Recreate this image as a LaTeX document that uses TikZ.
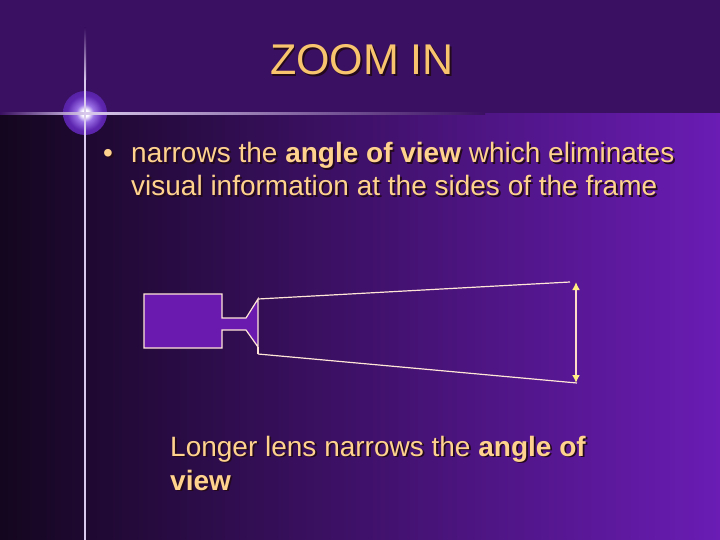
\documentclass[tikz,border=0pt]{standalone}
\usepackage{fontspec}
\setmainfont{Liberation Sans}
\usetikzlibrary{arrows.meta}
\definecolor{topbg}{HTML}{3A1062}
\definecolor{leftdark}{HTML}{14061F}
\definecolor{rightbright}{HTML}{6A1CB4}
\definecolor{txtc}{HTML}{FFD38E}
\definecolor{ttlc}{HTML}{F8C46E}
\definecolor{shadc}{HTML}{24081C}
\definecolor{linec}{HTML}{FFE6D6}
\definecolor{camfill}{HTML}{6A1AAE}
\definecolor{arrowc}{HTML}{FFDCC8}
\definecolor{headc}{HTML}{FFEE80}
\definecolor{vlinec}{HTML}{D9C9EC}
\definecolor{glowa}{HTML}{9A70E6}
\definecolor{glowb}{HTML}{5E26B0}
\definecolor{glowc}{HTML}{48188A}
\definecolor{glowd}{HTML}{3C1270}
\pgfdeclareradialshading{glowsh}{\pgfpointorigin}{color(0bp)=(white);color(4bp)=(white);color(10bp)=(glowa);color(20bp)=(glowb);color(38bp)=(glowc);color(50bp)=(glowd)}
\newcommand\shtxt[1]{\rlap{\raisebox{-1.8pt}{\kern1.8pt\color{shadc}#1}}#1}
\begin{document}
\begin{tikzpicture}[x=1pt,y=-1pt,
  body/.style={inner sep=0pt, anchor=base west, text=txtc, font=\fontsize{28}{33}\selectfont},
  ttl/.style={inner sep=0pt, anchor=base, text=ttlc, font=\fontsize{43}{50}\selectfont},
  cam/.style={draw=linec, line width=1.2pt, line join=miter},
  fov/.style={draw=linec, line width=1.2pt},
  dim/.style={draw=arrowc, line width=2.4pt, {Latex[length=8pt,width=8pt,fill=headc,color=headc]}-{Latex[length=8pt,width=8pt,fill=headc,color=headc]}}]
\useasboundingbox (0,0) rectangle (720,540);
% background
\fill[topbg] (0,0) rectangle (720,114);
\shade[left color=leftdark, right color=rightbright] (0,114) rectangle (720,540);
% decorative lines
\shade[shading=glowsh] (85,113) circle (22);
\shade[top color=topbg, bottom color=vlinec] (84,28) rectangle (86,80);
\fill[vlinec] (84,80) rectangle (86,540);
\shade[left color=topbg, right color=vlinec] (0,112.5) rectangle (85,115);
\shade[left color=vlinec, right color=topbg] (85,112.5) rectangle (485,115);
% title
\node[ttl] (title) at (362,75) {\shtxt{ZOOM IN}};
% bullet text
\node[body] (bul) at (103,163) {\shtxt{\textbullet}};
\node[body] (l1) at (131,163) {\shtxt{narrows the \textbf{angle of view} which eliminates}};
\node[body] (l2) at (131,196) {\shtxt{visual information at the sides of the frame}};
% camera diagram
\coordinate (lt) at (258,299);
\coordinate (lb) at (258,347);
\coordinate (le) at (258,354);
\coordinate (ft) at (570,282);
\coordinate (fb) at (577,383);
\coordinate (at) at (576,282);
\coordinate (ab) at (576,383);
\path[cam, fill=camfill] (144,294) -- (222,294) -- (222,318) -- (246,318) -- (lt)
  -- (lb) -- (246,330) -- (222,330) -- (222,348) -- (144,348) -- cycle;
\draw[fov] (lb) -- (le);
\draw[fov] (lt) -- (ft);
\draw[fov] (le) -- (fb);
\draw[dim] (ab) -- (at);
% caption
\node[body] (c1) at (170,456) {\shtxt{Longer lens narrows the \textbf{angle of}}};
\node[body] (c2) at (170,490) {\shtxt{\textbf{view}}};
\end{tikzpicture}
\end{document}
